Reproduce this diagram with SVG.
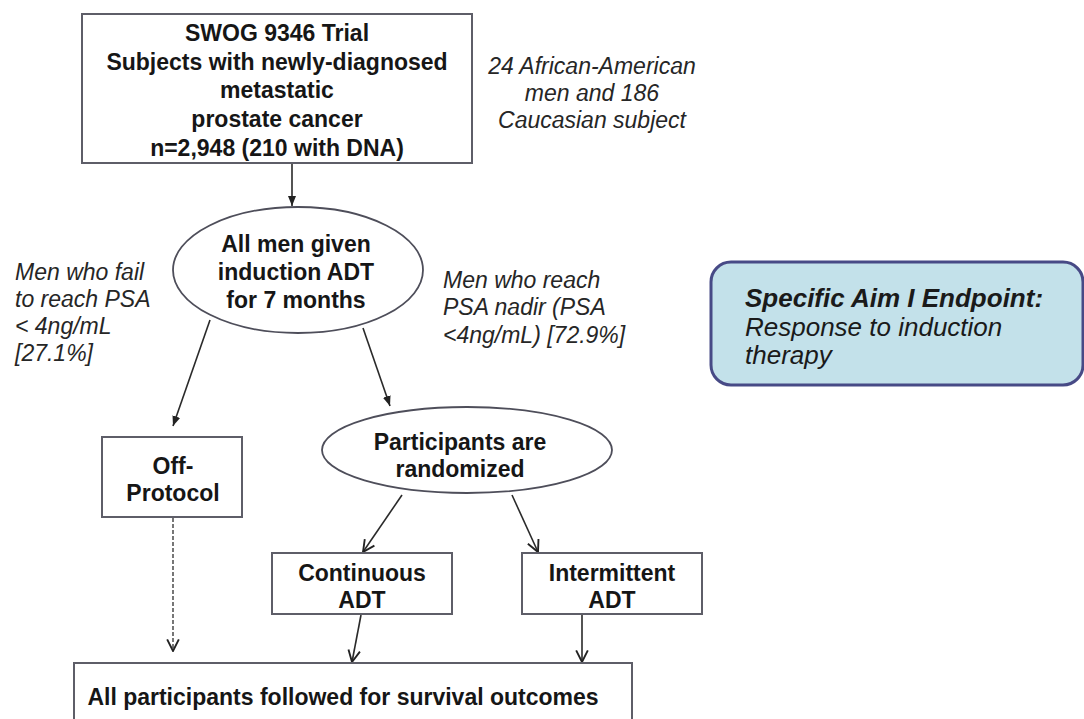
<svg xmlns="http://www.w3.org/2000/svg" width="1084" height="719" viewBox="0 0 1084 719">
<style>
.bg{fill:#ffffff}
.box{fill:#ffffff;stroke:#5e5e68;stroke-width:2}
.ell{fill:#ffffff;stroke:#4e4e5a;stroke-width:1.8}
.aim{fill:#c3e1ea;stroke:#474a86;stroke-width:3}
.t{font-family:"Liberation Sans",Arial,sans-serif;font-size:23px;font-weight:bold;fill:#161616;text-anchor:middle}
.note{font-family:"Liberation Sans",Arial,sans-serif;font-size:23px;font-style:italic;fill:#262626}
.aimt{font-family:"Liberation Sans",Arial,sans-serif;font-size:26px;font-style:italic;fill:#1a1a1a}
.c{fill:none;stroke:#2a2a2a;stroke-width:1.6}
.d{fill:none;stroke:#555;stroke-width:1.6;stroke-dasharray:4 2}
</style>
<defs>
<marker id="arrF" viewBox="0 0 10 10" refX="10" refY="5" markerWidth="10" markerHeight="10" markerUnits="userSpaceOnUse" orient="auto"><path d="M0,1 L10,5 L0,9 z" fill="#222"/></marker>
<marker id="arrV" viewBox="0 0 12 12" refX="11" refY="6" markerWidth="14" markerHeight="14" markerUnits="userSpaceOnUse" orient="auto"><path d="M1,1 L11,6 L1,11" fill="none" stroke="#222" stroke-width="1.6"/></marker>
</defs>
<rect class="bg" x="0" y="0" width="1084" height="719"/>

<g id="connectors">
<line class="c" x1="292" y1="164" x2="292" y2="206" marker-end="url(#arrF)"/>
<line class="c" x1="210" y1="320" x2="173" y2="426" marker-end="url(#arrF)"/>
<line class="c" x1="363" y1="328" x2="390" y2="406" marker-end="url(#arrF)"/>
<line class="c" x1="402" y1="495" x2="363" y2="552" marker-end="url(#arrV)"/>
<line class="c" x1="512" y1="495" x2="538" y2="552" marker-end="url(#arrV)"/>
<line class="c" x1="361" y1="615" x2="352" y2="662" marker-end="url(#arrV)"/>
<line class="c" x1="582" y1="615" x2="582" y2="662" marker-end="url(#arrV)"/>
<line class="d" x1="173" y1="518" x2="173" y2="651" marker-end="url(#arrV)"/>
</g>

<g id="trial">
<rect class="box" x="82" y="14" width="390" height="149"/>
<text class="t" x="277" y="41">SWOG 9346 Trial</text>
<text class="t" x="277" y="70">Subjects with newly-diagnosed</text>
<text class="t" x="277" y="98">metastatic</text>
<text class="t" x="277" y="127">prostate cancer</text>
<text class="t" x="277" y="156">n=2,948 (210 with DNA)</text>
</g>

<g id="note-dna">
<text class="note" text-anchor="middle" x="592" y="74">24 African-American</text>
<text class="note" text-anchor="middle" x="592" y="101">men and 186</text>
<text class="note" text-anchor="middle" x="592" y="128">Caucasian subject</text>
</g>

<g id="induction">
<ellipse class="ell" cx="298" cy="270" rx="125" ry="63"/>
<text class="t" x="296" y="252">All men given</text>
<text class="t" x="296" y="280">induction ADT</text>
<text class="t" x="296" y="308">for 7 months</text>
</g>

<g id="note-fail">
<text class="note" x="15" y="280">Men who fail</text>
<text class="note" x="15" y="307">to reach PSA</text>
<text class="note" x="15" y="334">&lt; 4ng/mL</text>
<text class="note" x="15" y="361">[27.1%]</text>
</g>

<g id="note-reach">
<text class="note" x="443" y="288">Men who reach</text>
<text class="note" x="443" y="315">PSA nadir (PSA</text>
<text class="note" x="443" y="343">&lt;4ng/mL) [72.9%]</text>
</g>

<g id="aim">
<rect class="aim" x="711" y="262" width="372" height="123" rx="20" ry="20"/>
<text class="aimt" x="745" y="307" font-weight="bold">Specific Aim I Endpoint:</text>
<text class="aimt" x="745" y="336">Response to induction</text>
<text class="aimt" x="745" y="364">therapy</text>
</g>

<g id="off-protocol">
<rect class="box" x="102" y="437" width="140" height="80"/>
<text class="t" x="173" y="474">Off-</text>
<text class="t" x="173" y="501">Protocol</text>
</g>

<g id="randomized">
<ellipse class="ell" cx="467" cy="450" rx="145" ry="43"/>
<text class="t" x="460" y="450">Participants are</text>
<text class="t" x="460" y="477">randomized</text>
</g>

<g id="continuous">
<rect class="box" x="272" y="553" width="180" height="61"/>
<text class="t" x="362" y="581">Continuous</text>
<text class="t" x="362" y="608">ADT</text>
</g>

<g id="intermittent">
<rect class="box" x="522" y="553" width="180" height="61"/>
<text class="t" x="612" y="581">Intermittent</text>
<text class="t" x="612" y="608">ADT</text>
</g>

<g id="followup">
<rect class="box" x="74" y="663" width="558" height="70"/>
<text class="t" x="343" y="705">All participants followed for survival outcomes</text>
</g>
</svg>
